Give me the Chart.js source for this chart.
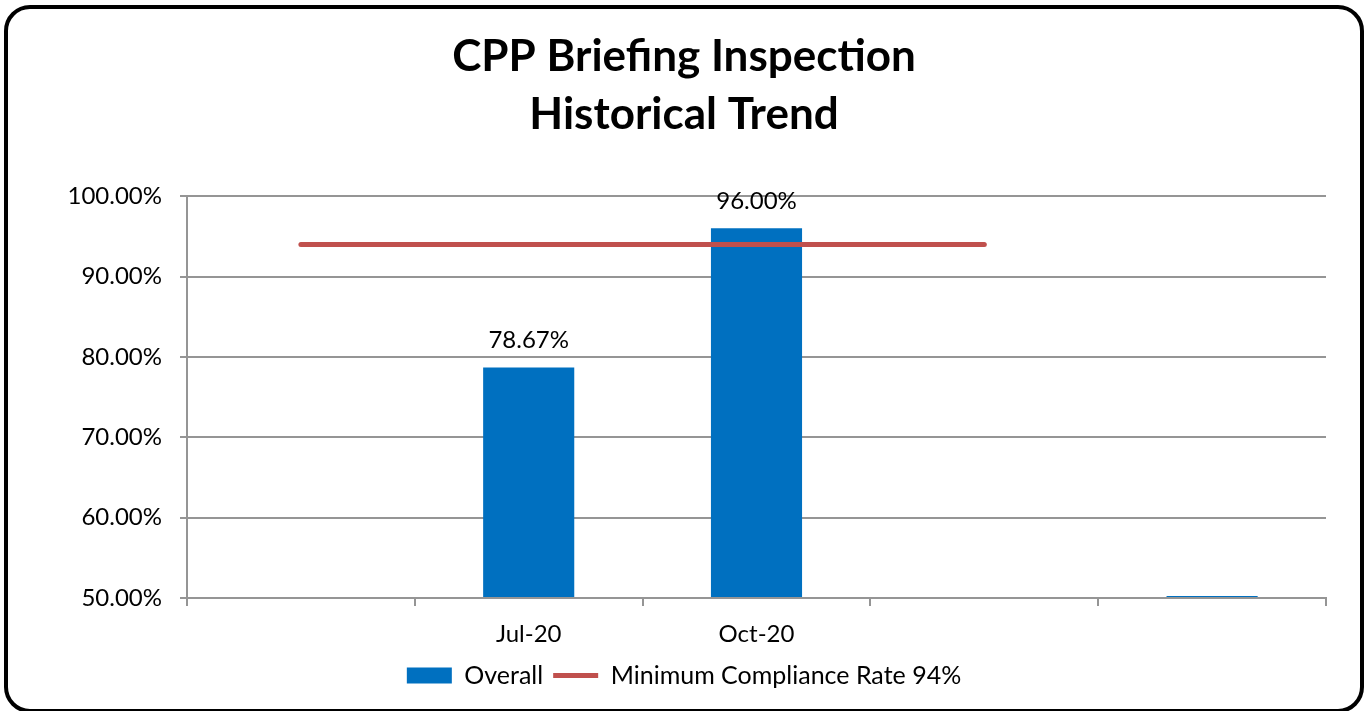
<!DOCTYPE html>
<html>
<head>
<meta charset="utf-8">
<script src="https://cdn.jsdelivr.net/npm/chart.js@4"></script>
<style>
  html, body { margin: 0; padding: 0; background: #fff; overflow: hidden; }
  #wrap { position: relative; width: 1368px; height: 711px; }
  #frame {
    position: absolute; left: 4px; top: 5px; width: 1360px; height: 708px;
    box-sizing: border-box; border: 4px solid #000; border-radius: 26px;
    pointer-events: none;
  }
</style>
</head>
<body>
<div id="wrap">
  <canvas id="chart" width="1368" height="711"></canvas>
  <div id="frame"></div>
</div>
<script>
const categories = ["", "Jul-20", "Oct-20", "", ""];
const overall = [null, 78.67, 96.0, null, 50];
const minCompliance = [94, 94, 94, 94, null];
const yTicks = [50, 60, 70, 80, 90, 100];

const FONT = "Lato, 'Open Sans', sans-serif";
const GRID = "#959595";

const barLabels = {
  id: "barLabels",
  afterDatasetsDraw(chart) {
    const ctx = chart.ctx;
    const meta = chart.getDatasetMeta(0);
    const yMin = chart.scales.y.min;
    ctx.save();
    ctx.font = "24px " + FONT;
    ctx.fillStyle = "#000";
    ctx.textAlign = "center";
    ctx.textBaseline = "middle";
    meta.data.forEach((bar, i) => {
      const v = overall[i];
      if (v == null || v <= yMin) return;
      ctx.fillText(v.toFixed(2) + "%", bar.x, bar.y - 27);
    });
    ctx.restore();
  },
};

new Chart(document.getElementById("chart"), {
  type: "bar",
  data: {
    labels: categories,
    datasets: [
      {
        label: "Overall",
        data: overall,
        backgroundColor: "#0070C0",
        borderWidth: 0,
        barPercentage: 0.8,
        categoryPercentage: 0.5,
        base: 50,
        minBarLength: 2,
        clip: false,
        order: 1,
      },
      {
        type: "line",
        label: "Minimum Compliance Rate 94%",
        data: minCompliance,
        borderColor: "#C0504D",
        backgroundColor: "#C0504D",
        borderWidth: 5,
        borderCapStyle: "round",
        pointRadius: 0,
        pointStyle: "line",
        order: 0,
      },
    ],
  },
  options: {
    responsive: false,
    animation: false,
    layout: { padding: { top: 28, left: 42, right: 42, bottom: 13 } },
    plugins: {
      title: {
        display: true,
        text: ["CPP Briefing Inspection", "Historical Trend"],
        color: "#000",
        font: { family: FONT, size: 44, weight: "bold", lineHeight: 1.32 },
        padding: { top: 0, bottom: 52 },
      },
      legend: {
        position: "bottom",
        labels: {
          color: "#000",
          font: { family: FONT, size: 25 },
          usePointStyle: true,
          pointStyleWidth: 45,
          boxHeight: 16,
          padding: 10,
          sort: (a, b) => a.datasetIndex - b.datasetIndex,
          generateLabels(chart) {
            const items = Chart.defaults.plugins.legend.labels.generateLabels(chart);
            items.forEach((it) => {
              it.pointStyle = it.datasetIndex === 0 ? "rect" : "line";
              if (it.datasetIndex === 0) it.lineWidth = 0;
            });
            return items;
          },
        },
      },
      tooltip: { enabled: false },
    },
    scales: {
      x: {
        grid: {
          offset: true,
          drawOnChartArea: false,
          drawTicks: true,
          tickLength: 8,
          color: GRID,
          lineWidth: 2,
        },
        border: { color: GRID, width: 2 },
        ticks: { color: "#000", font: { family: FONT, size: 24 }, padding: 14, maxRotation: 0, autoSkip: false },
        afterFit(scale) { scale.height = 55; },
      },
      y: {
        min: 50,
        max: 100,
        afterBuildTicks(scale) { scale.ticks = yTicks.map((v) => ({ value: v })); },
        grid: { color: GRID, lineWidth: 2, tickLength: 7 },
        border: { color: GRID, width: 2 },
        ticks: {
          color: "#000",
          font: { family: FONT, size: 24 },
          padding: 18,
          callback: (v) => v.toFixed(2) + "%",
        },
        afterFit(scale) { scale.width = 145; },
      },
    },
  },
  plugins: [barLabels],
});
</script>
</body>
</html>
